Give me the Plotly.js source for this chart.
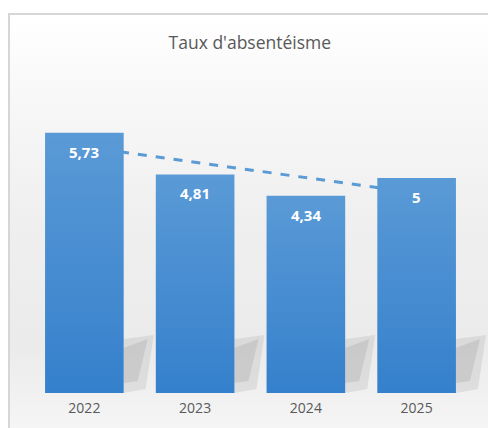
<!DOCTYPE html>
<html>
<head>
<meta charset="utf-8">
<script src="https://cdn.plot.ly/plotly-3.0.1.min.js"></script>
<style>
  html, body { margin: 0; padding: 0; background: #ffffff; }
  #wrap { position: relative; width: 488px; height: 428px; overflow: hidden; background: #ffffff; }
  #frame { position: absolute; left: 8px; top: 13px; width: 520px; height: 460px;
           border-left: 2px solid #d6d6d6; border-top: 2px solid #d6d6d6;
           background: linear-gradient(to bottom, #ffffff 0%, #f7f7f7 20%, #efefef 45%, #ebebeb 72%, #f5f5f5 90%, #fbfbfb 100%); }
  #chart { position: absolute; left: 0; top: 0; width: 488px; height: 428px; }
</style>
</head>
<body>
<div id="wrap">
  <div id="frame"></div>
  <div id="chart"></div>
</div>
<script>
const years = ['2022', '2023', '2024', '2025'];
const rates = [5.73, 4.81, 4.34, 4.73];
const rateLabels = ['5,73', '4,81', '4,34', '5'];
const trendYears = ['2022', '2025'];
const trendValues = [5.42, 4.40];

const bars = {
  type: 'bar',
  x: years, y: rates,
  textposition: 'none',
  marker: { color: '#4a8fd3', line: { width: 0 } },
  hoverinfo: 'skip', showlegend: false
};

const annotations = years.map((yr, i) => ({
  x: i, y: rates[i], xref: 'x', yref: 'y',
  text: '<b>' + rateLabels[i] + '</b>',
  showarrow: false, yshift: -19,
  font: { family: 'Open Sans, sans-serif', size: 15, color: '#ffffff' }
}));

const pw = 488 - 29 - 16, ph = 428 - 75 - 35;
const shadowShapes = [];
years.forEach((yr, i) => {
  const cat = pw / 4;
  const right = (i + 0.5) * cat + cat * 0.355;
  const X = v => (v / pw);
  const Y = v => (v / ph);
  // light outer shadow
  shadowShapes.push({
    type: 'path', xref: 'paper', yref: 'paper', layer: 'below',
    path: 'M ' + X(right) + ' 0 L ' + X(right) + ' ' + Y(54) + ' L ' + X(right + 30) + ' ' + Y(58) +
          ' L ' + X(right + 22) + ' ' + Y(4) + ' Z',
    fillcolor: 'rgba(175,175,175,0.28)', line: { width: 0 }
  });
  // darker diagonal core
  shadowShapes.push({
    type: 'path', xref: 'paper', yref: 'paper', layer: 'below',
    path: 'M ' + X(right) + ' ' + Y(10) + ' L ' + X(right) + ' ' + Y(45) + ' L ' + X(right + 24) + ' ' + Y(54) +
          ' L ' + X(right + 14) + ' ' + Y(12) + ' Z',
    fillcolor: 'rgba(150,150,150,0.25)', line: { width: 0 }
  });
});

const trendShape = {
  type: 'line', xref: 'x', yref: 'y', layer: 'below',
  x0: years.indexOf(trendYears[0]), y0: trendValues[0],
  x1: years.indexOf(trendYears[1]), y1: trendValues[1],
  line: { color: '#5b9bd5', width: 3, dash: 'dash' }
};

const layout = {
  width: 488, height: 428,
  margin: { l: 29, r: 16, t: 75, b: 35 },
  paper_bgcolor: 'rgba(0,0,0,0)',
  plot_bgcolor: 'rgba(0,0,0,0)',
  bargap: 0.29,
  title: {
    text: "Taux d'absentéisme",
    x: 0.512, xanchor: 'center', y: 0.9, yref: 'container', yanchor: 'middle',
    font: { family: 'Open Sans, sans-serif', size: 17.5, color: '#595959' }
  },
  xaxis: {
    type: 'category', categoryorder: 'array', categoryarray: years,
    range: [-0.5, 3.5],
    showgrid: false, zeroline: false, showline: false, ticks: '',
    ticklabelstandoff: 5,
    tickfont: { family: 'Open Sans, sans-serif', size: 14, color: '#595959' }
  },
  yaxis: {
    range: [0, 7], visible: false, showgrid: false, zeroline: false
  },
  annotations: annotations,
  shapes: shadowShapes.concat([trendShape]),
  showlegend: false
};

Plotly.newPlot('chart', [bars], layout, { displayModeBar: false, staticPlot: true }).then(gd => {
  const svg = gd.querySelector('svg.main-svg');
  const ns = 'http://www.w3.org/2000/svg';
  let defs = svg.querySelector('defs');
  if (!defs) { defs = document.createElementNS(ns, 'defs'); svg.insertBefore(defs, svg.firstChild); }
  const lg = document.createElementNS(ns, 'linearGradient');
  lg.setAttribute('id', 'barGrad');
  lg.setAttribute('x1', '0'); lg.setAttribute('y1', '0');
  lg.setAttribute('x2', '0'); lg.setAttribute('y2', '1');
  [['0%', '#5a9ad6'], ['100%', '#3580cc']].forEach(([o, c]) => {
    const s = document.createElementNS(ns, 'stop');
    s.setAttribute('offset', o); s.setAttribute('stop-color', c);
    lg.appendChild(s);
  });
  defs.appendChild(lg);
  gd.querySelectorAll('.barlayer .point path').forEach(p => { p.style.fill = 'url(#barGrad)'; });
});
</script>
</body>
</html>
